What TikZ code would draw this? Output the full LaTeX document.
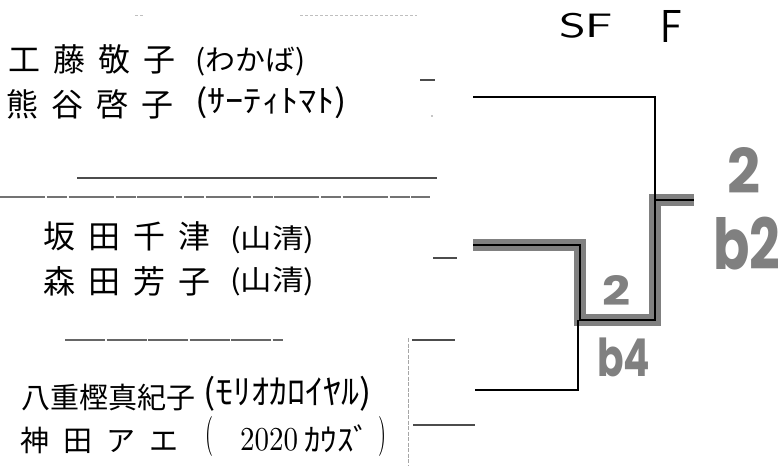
\documentclass[tikz,border=0pt]{standalone}
\usepackage{fontspec}
\usepackage{graphicx}
\newfontfamily\jp{Noto Sans CJK JP}
\newfontfamily\hand{Poppins}
\definecolor{pencil}{RGB}{128,128,128}
\begin{document}
\begin{tikzpicture}[x=1pt,y=-1pt,
  nm/.style={anchor=base west, inner sep=0pt, font=\jp\fontsize{32}{32}\selectfont},
  nmsm/.style={anchor=base west, inner sep=0pt, font=\jp\fontsize{29}{29}\selectfont},
  paren/.style={anchor=north west, inner sep=0pt, font=\jp},
  lab/.style={anchor=north west, inner sep=0pt, text=pencil, font=\hand\bfseries},
  hdr/.style={anchor=north west, inner sep=0pt, font=\sffamily},
  rule/.style={draw=black!70, line width=1.3pt},
  faint/.style={draw=black!25, line width=0.8pt, dash pattern=on 3pt off 2pt},
  tick/.style={draw=black!70, line width=1.2pt},
  bracket/.style={draw=black, line width=2.4pt, line join=miter},
  hilite/.style={draw=pencil, line width=12pt, line join=miter, line cap=square}]
\useasboundingbox (0,0) rectangle (782,466);
\fill[white] (0,0) rectangle (782,466);

% faint top line
\coordinate (f1) at (135,15); \coordinate (f2) at (143,15);
\coordinate (f3) at (300,15); \coordinate (f4) at (417,15);
\draw[faint] (f1) -- (f2);
\draw[faint] (f3) -- (f4);

% names
\node[nm] (a1) at (8,71) {工\kern13pt 藤\kern13pt 敬\kern13pt 子};
\node[paren] (pa1) at (195,47) {\resizebox*{110pt}{29pt}{(わかば)}};
\node[nm] (a2) at (6,116) {熊\kern13pt 谷\kern13pt 啓\kern13pt 子};
\node[paren] (pa2) at (195,86) {\resizebox*{152pt}{32pt}{(ｻｰﾃｨﾄﾏﾄ)}};

\node[nm] (b1) at (43,248) {坂\kern13pt 田\kern13pt 千\kern13pt 津};
\node[paren] (pb1) at (230,226) {\resizebox*{84pt}{28pt}{(山清)}};
\node[nm] (b2) at (43,293) {森\kern13pt 田\kern13pt 芳\kern13pt 子};
\node[paren] (pb2) at (230,267) {\resizebox*{84pt}{29pt}{(山清)}};

\node[nmsm] (c1) at (21,408) {八重樫真紀子};
\node[paren] (pc1) at (203,376) {\resizebox*{168pt}{35pt}{(ﾓﾘｵｶﾛｲﾔﾙ)}};
\node[nmsm] (c2) at (20,451) {神\kern14pt 田\kern14pt ア\kern14pt エ};
\node[anchor=north west, inner sep=0pt] (pc2a) at (205,416) {\resizebox*{8pt}{40pt}{(}};
\node[anchor=north west, inner sep=0pt] (pc2b) at (240,428) {\resizebox*{58pt}{23pt}{2020}};
\node[paren] (pc2c) at (304,425) {\resizebox*{66pt}{28pt}{ｶｳｽﾞ}};
\node[anchor=north west, inner sep=0pt] (pc2d) at (378,416) {\resizebox*{8pt}{40pt}{)}};

% separator rules
\coordinate (r1a) at (77,178); \coordinate (r1b) at (437,178);
\coordinate (r2a) at (0,197); \coordinate (r2b) at (430,197);
\coordinate (r3a) at (65,340); \coordinate (r3b) at (283,340);
\draw[rule] (r1a) -- (r1b);
\draw[rule, draw=black!55, dash pattern=on 45pt off 2pt on 20pt off 1.5pt] (r2a) -- (r2b);
\draw[rule, draw=black!60, dash pattern=on 40pt off 1.5pt] (r3a) -- (r3b);

% small ticks
\coordinate (k1a) at (420,80); \coordinate (k1b) at (435,80);
\coordinate (k2a) at (433,258); \coordinate (k2b) at (457,258);
\coordinate (k3a) at (412,340); \coordinate (k3b) at (455,340);
\coordinate (k4a) at (413,425); \coordinate (k4b) at (475,425);
\coordinate (va) at (408,338); \coordinate (vb) at (408,466);
\draw[tick] (k1a) -- (k1b);
\draw[tick] (k2a) -- (k2b);
\draw[tick] (k3a) -- (k3b);
\draw[tick] (k4a) -- (k4b);
\draw[draw=black!35, line width=0.8pt, dash pattern=on 4pt off 1.5pt] (va) -- (vb);
\fill[black!45] (432,116) circle (0.9pt);

% bracket
\coordinate (t1) at (473,97);
\coordinate (t2) at (655,97);
\coordinate (m1) at (655,200);
\coordinate (w) at (694,200);
\coordinate (s1) at (473,245);
\coordinate (s2) at (580,245);
\coordinate (s3) at (580,320);
\coordinate (s4) at (655,320);
\coordinate (u1) at (475,390);
\coordinate (u2) at (578,390);
\coordinate (u3) at (578,320);

\draw[hilite] (s1) -- (s2) -- (s3) -- (s4) -- (m1) -- (w);
\draw[bracket] (t1) -- (t2) -- (m1);
\draw[bracket] (s1) -- (s2) -- (s3) -- (s4) -- (m1) -- (w);
\draw[bracket, line width=2pt] (u1) -- (u2) -- (u3);

% headers
\node[hdr] (sf) at (559,13) {\resizebox*{54pt}{25pt}{SF}};
\node[hdr] (fh) at (660,10) {\resizebox*{22pt}{32pt}{F}};

% pencil scores
\node[lab] (sc1) at (602,275) {\resizebox*{28pt}{30pt}{2}};
\node[lab] (sc2) at (597,338) {\resizebox*{53pt}{39pt}{b4}};
\node[lab] (sc3) at (727,147) {\resizebox*{33pt}{46pt}{2}};
\node[lab] (sc4) at (713,217) {\resizebox*{67pt}{53pt}{b2}};
\end{tikzpicture}
\end{document}
